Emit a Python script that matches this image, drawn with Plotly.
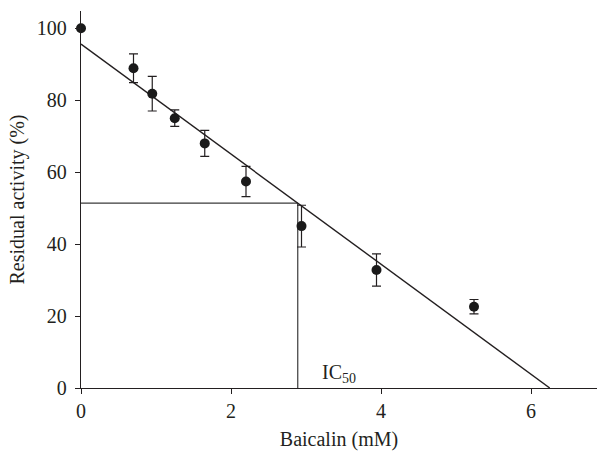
import plotly.graph_objects as go

# Data
conc_mM = [0.0, 0.70, 0.95, 1.25, 1.65, 2.20, 2.94, 3.94, 5.24]
residual_pct = [100.0, 88.9, 81.8, 75.0, 68.0, 57.4, 45.0, 32.8, 22.6]
error_pct = [0.0, 4.0, 4.8, 2.3, 3.6, 4.2, 5.8, 4.5, 2.0]

fit_x = [0.0, 6.25]
fit_y = [95.6, 0.0]

ic50_x = 2.89
ic50_y = 51.4

x_ticks = [0, 2, 4, 6]
y_ticks = [0, 20, 40, 60, 80, 100]

FONT = "Liberation Serif, Times New Roman, serif"
INK = "#231f20"
FS = 20

fig = go.Figure()

# IC50 guide lines
fig.add_trace(go.Scatter(x=[0, ic50_x], y=[ic50_y, ic50_y], mode="lines",
                         line=dict(color="#3a3a3a", width=1.2), showlegend=False,
                         hoverinfo="skip"))
fig.add_trace(go.Scatter(x=[ic50_x, ic50_x], y=[0, ic50_y], mode="lines",
                         line=dict(color="#3a3a3a", width=1.2), showlegend=False,
                         hoverinfo="skip"))

# Regression line
fig.add_trace(go.Scatter(x=fit_x, y=fit_y, mode="lines",
                         line=dict(color=INK, width=1.4), showlegend=False,
                         cliponaxis=False))

# Data points with error bars
fig.add_trace(go.Scatter(
    x=conc_mM, y=residual_pct, mode="markers",
    marker=dict(color="#1a1a1a", size=10),
    error_y=dict(type="data", array=error_pct, visible=True,
                 color=INK, thickness=1.2, width=4.5),
    showlegend=False, cliponaxis=False))

fig.add_annotation(x=3.19, y=0, xref="x", yref="y", text="IC<sub>50</sub>",
                   showarrow=False, xanchor="left", yanchor="bottom", yshift=0,
                   font=dict(family=FONT, size=FS, color=INK))

fig.update_layout(
    width=597, height=451,
    margin=dict(l=81, r=0, t=11, b=63),
    paper_bgcolor="white", plot_bgcolor="white",
    font=dict(family=FONT, size=FS, color=INK),
    xaxis=dict(range=[0, 6.88], tickvals=x_ticks, ticks="outside", ticklen=5,
               tickwidth=1.2, tickcolor=INK, showline=True, linecolor=INK,
               linewidth=1.4, showgrid=False, zeroline=False, automargin=False,
               title=dict(text="Baicalin (mM)", standoff=10,
                          font=dict(family=FONT, size=FS, color=INK))),
    yaxis=dict(range=[0, 104.8], tickvals=y_ticks, ticks="outside", ticklen=5,
               tickwidth=1.2, tickcolor=INK, showline=True, linecolor=INK,
               linewidth=1.4, showgrid=False, zeroline=False, automargin=False,
               ticklabelstandoff=4,
               title=dict(text="Residual activity (%)", standoff=6,
                          font=dict(family=FONT, size=FS, color=INK))),
)

fig.write_html("out.html", config={"displayModeBar": False},
               post_script="document.body.style.margin='0';")
